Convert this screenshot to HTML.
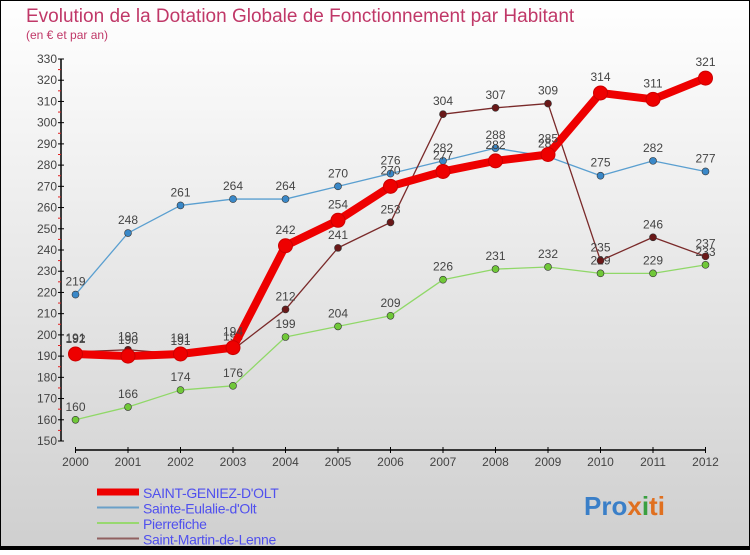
<!DOCTYPE html>
<html><head><meta charset="utf-8"><style>
body{margin:0;width:750px;height:550px;overflow:hidden;font-family:"Liberation Sans",sans-serif}
</style></head><body>
<svg id="chart" width="750" height="550" xmlns="http://www.w3.org/2000/svg" font-family="Liberation Sans, sans-serif">
<defs><linearGradient id="bg" x1="0" y1="0" x2="0" y2="1"><stop offset="0" stop-color="#ffffff"/><stop offset="1" stop-color="#cfcfcf"/></linearGradient></defs>
<rect x="0.5" y="0.5" width="749" height="549" fill="url(#bg)" stroke="#000" stroke-width="1"/>
<rect x="0" y="546" width="750" height="4" fill="#000"/>
<text x="26" y="22" font-size="19" fill="#c03868">Evolution de la Dotation Globale de Fonctionnement par Habitant</text>
<text x="26" y="39" font-size="12" fill="#c03868">(en € et par an)</text>
<g id="axes"></g><g id="series"></g><g id="legend"></g>
<text x="584" y="515" font-size="26" font-weight="bold"><tspan fill="#3a7fc8">Pro</tspan><tspan fill="#e07020">x</tspan><tspan fill="#3aa040">i</tspan><tspan fill="#e07020">ti</tspan></text>
</svg>
<script>
const years=[2000,2001,2002,2003,2004,2005,2006,2007,2008,2009,2010,2011,2012];
const yTicks=[150,160,170,180,190,200,210,220,230,240,250,260,270,280,290,300,310,320,330];
const seriesNames=["SAINT-GENIEZ-D'OLT","Sainte-Eulalie-d'Olt","Pierrefiche","Saint-Martin-de-Lenne"];
const sgo=[191,190,191,194,242,254,270,277,282,285,314,311,321];
const eulalie=[219,248,261,264,264,270,276,282,288,284,275,282,277];
const pierrefiche=[160,166,174,176,199,204,209,226,231,232,229,229,233];
const martin=[192,193,191,193,212,241,253,304,307,309,235,246,237];
const NS="http://www.w3.org/2000/svg";
const x=i=>75.5+i*52.5;
const y=v=>441-(v-150)*(382/180);
function mk(tag,attrs,parent){const e=document.createElementNS(NS,tag);for(const k in attrs)e.setAttribute(k,attrs[k]);parent.appendChild(e);return e;}
const ax=document.getElementById('axes');
let yl=mk('line',{x1:61,y1:y(330),x2:61,y2:441,stroke:'#000','stroke-width':1.5},ax);


yTicks.forEach(t=>{
 mk('line',{x1:58,x2:64,y1:y(t),y2:y(t),stroke:'#000'},ax);
 if(t<330)mk('line',{x1:58,x2:61,y1:y(t+5),y2:y(t+5),stroke:'#e02020'},ax);
 const tx=mk('text',{x:57,y:y(t)+4,'font-size':12,'text-anchor':'end',fill:'#444'},ax);tx.textContent=t;
 
 
});
let xl=mk('line',{x1:75,y1:450,x2:706,y2:450,stroke:'#000','stroke-width':1.5},ax);


years.forEach((yr,i)=>{
 mk('line',{x1:x(i),x2:x(i),y1:447,y2:453,stroke:'#000'},ax);
 const tx=mk('text',{x:x(i),y:466,'font-size':12,'text-anchor':'middle',fill:'#444'},ax);tx.textContent=yr;
 
 
});
const sg=document.getElementById('series');
const defs=[[eulalie,'#5a9fd0','#3a88c8',1.3,3.5],[pierrefiche,'#90d868','#70c838',1.3,3.5],[martin,'#7a2a2a','#6a1818',1.3,3.5],[sgo,'#ee0000','#ee0000',8,7]];
const names=['sainte-eulalie','pierrefiche','saint-martin','saint-geniez'];
defs.forEach((d,si)=>{
 const g=mk('g',{},sg);
 
 
 mk('polyline',{points:d[0].map((v,i)=>x(i)+','+y(v)).join(' '),fill:'none',stroke:d[1],'stroke-width':d[3],'stroke-linejoin':'round'},g);
 d[0].forEach((v,i)=>{
  const c=mk('circle',{cx:x(i),cy:y(v),r:d[4],fill:d[2],stroke:si==3?'#cc0000':'#333','stroke-width':si==3?1:0.6},g);
  
  
  const t=mk('text',{x:x(i),y:y(v)-(si==3?12:9),'font-size':12,'text-anchor':'middle',fill:'#444'},g);t.textContent=v;
 });
});
const lg=document.getElementById('legend');
const lc=['#ee0000','#6aa0c8','#98d870','#906060'],lw=[7,2,2,2];
seriesNames.forEach((n,i)=>{
 const yy=492+i*15.5;
 const l=mk('line',{x1:97,x2:139,y1:yy,y2:yy,stroke:lc[i],'stroke-width':lw[i]},lg);
 
 
 const t=mk('text',{x:143,y:yy+6,'font-size':14,'letter-spacing':-0.3,fill:'#5050ee'},lg);t.textContent=n;
 
 
});
</script>
</body></html>
